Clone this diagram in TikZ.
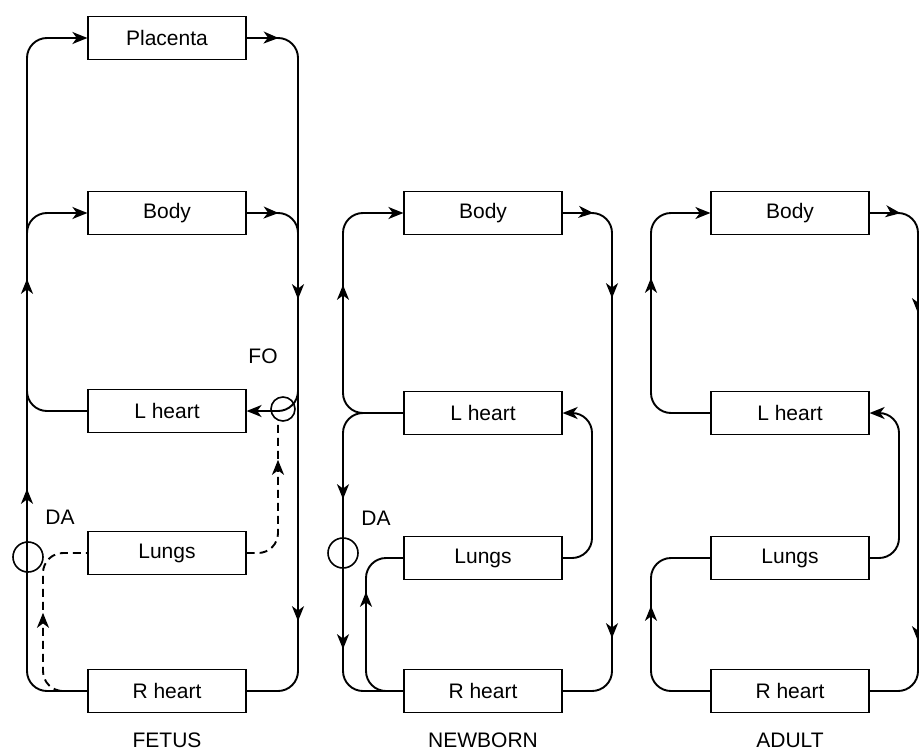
\documentclass[tikz,border=0pt]{standalone}
\usepackage{fontspec}
\setmainfont{Liberation Sans}
\usetikzlibrary{arrows.meta,decorations.markings}

\tikzset{
  organ/.style={draw,line width=0.6pt,minimum width=79pt,minimum height=21.5pt,inner sep=0pt},
  vessel/.style={line width=0.95pt,rounded corners=10pt},
  shunt/.style={draw,circle,line width=0.8pt,inner sep=0pt,minimum size=#1},
  arrowat/.style={postaction={decorate,decoration={markings,mark=at position #1 with {\arrow{>}}}}},
  fetalflow/.style={vessel,dash pattern=on 4pt off 2.5pt}
}

\begin{document}
\begin{tikzpicture}[x=0.5pt,y=-0.5pt,>={Stealth[length=7.5pt,width=6pt,inset=2.2pt]},font=\fontsize{10.5}{12}\selectfont]
\useasboundingbox (0,0) rectangle (919,749);

% fetus
\node[organ] (fpla) at (167,38) {Placenta};
\node[organ] (fbody) at (167,213) {Body};
\node[organ] (flh) at (167,411) {L heart};
\node[organ] (flung) at (167,553) {Lungs};
\node[organ] (frh) at (167,691) {R heart};
\node (fdalab) at (60,517) {DA};
\node (ffolab) at (263,356) {FO};
\node[shunt=15pt] (fda) at (28,557) {};
\node[shunt=12pt] (ffo) at (283,409) {};

\coordinate (fl1) at (27,255);
\coordinate (fl2) at (27,375);
\coordinate (fr1) at (298,255);
\coordinate (fr2) at (298,385);

\draw[vessel,->,arrowat=127pt,arrowat=232pt] (frh.west) -| (27,38) -- (fpla.west);
\draw[vessel,arrowat=16pt,arrowat=152pt,arrowat=313pt] (fpla.east) -| (298,691) -- (frh.east);
\draw[vessel,->] (fl1) |- (fbody.west);
\draw[vessel,arrowat=16pt] (fbody.east) -| (fr1);
\draw[vessel] (flh.west) -| (fl2);
\draw[vessel,->] (fr2) |- (flh.east);
\draw[fetalflow,arrowat=57pt] (frh.west) -| (43,553) -- (flung.west);
\draw[fetalflow,arrowat=58pt] (flung.east) -| ([xshift=-2.5pt]ffo.south);

% newborn
\node[organ] (nbody) at (483,213) {Body};
\node[organ] (nlh) at (483,413) {L heart};
\node[organ] (nlung) at (483,558) {Lungs};
\node[organ] (nrh) at (483,691) {R heart};
\node (ndalab) at (376,518) {DA};
\node[shunt=15pt] (nda) at (343,553) {};

\draw[vessel,->,arrowat=90pt] (nlh.west) -| (343,213) -- (nbody.west);
\draw[vessel,arrowat=69pt,arrowat=144pt] (nlh.west) -| (343,691) -- (nrh.west);
\draw[vessel,arrowat=64pt] (nrh.west) -| (366,558) -- (nlung.west);
\draw[vessel,->] (nlung.east) -| (592,413) -- (nlh.east);
\draw[vessel,arrowat=15.5pt,arrowat=63pt,arrowat=233pt] (nbody.east) -| (612,691) -- (nrh.east);

% adult
\node[organ] (abody) at (790,213) {Body};
\node[organ] (alh) at (790,413) {L heart};
\node[organ] (alung) at (790,558) {Lungs};
\node[organ] (arh) at (790,691) {R heart};

\draw[vessel,->,arrowat=93pt] (alh.west) -| (651,213) -- (abody.west);
\draw[vessel,arrowat=15.5pt,arrowat=70pt,arrowat=234pt] (abody.east) -| (918,691) -- (arh.east);
\draw[vessel,arrowat=68pt] (arh.west) -| (651,558) -- (alung.west);
\draw[vessel,->] (alung.east) -| (899,413) -- (alh.east);

\foreach \x/\stage in {167/FETUS,483/NEWBORN,790/ADULT}
    \node (\stage) at (\x,740) {\stage};

\end{tikzpicture}
\end{document}
